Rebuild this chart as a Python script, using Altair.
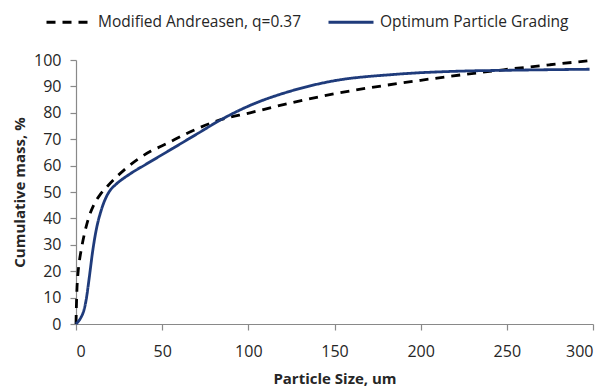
import altair as alt
import pandas as pd

# Modified Andreasen curve (q = 0.37)
andreasen_size = [0, 0.2, 0.6, 1, 2, 3, 5, 7, 10.6, 14, 18.4, 28, 43.5, 50, 68, 82, 101, 125, 150, 200, 248, 275, 300]
andreasen_cpft = [0, 6, 14, 18, 24, 28, 34.5, 39.5, 45.5, 49, 52.3, 58.4, 65.5, 67.5, 73.3, 77.0, 80.0, 83.8, 87.2, 92.3, 96.3, 98.2, 99.9]

# Optimum particle grading curve
optimum_size = [0, 1, 2.9, 4.5, 5.8, 7.7, 9.7, 11.6, 14.5, 17.4, 20, 23.2, 31, 40.6, 53, 71, 82, 101, 125, 147, 186, 224, 250, 298]
optimum_cpft = [0, 0.7, 2.5, 5, 8.8, 17.6, 27.7, 35.2, 42.8, 47.9, 50.8, 52.9, 56.7, 60.5, 65.3, 72.3, 76.6, 82.8, 88.3, 91.8, 94.6, 95.8, 96.1, 96.5]

series_names = ["Modified Andreasen, q=0.37", "Optimum Particle Grading"]
x_ticks = [0, 50, 100, 150, 200, 250, 300]
y_ticks = [0, 10, 20, 30, 40, 50, 60, 70, 80, 90, 100]

rows = []
for i, (s, c) in enumerate(zip(andreasen_size, andreasen_cpft)):
    rows.append({"size": s, "cpft": c, "series": series_names[0], "order": i})
for i, (s, c) in enumerate(zip(optimum_size, optimum_cpft)):
    rows.append({"size": s, "cpft": c, "series": series_names[1], "order": i})
df = pd.DataFrame(rows)

FONT = "Open Sans"
TEXT = "#262626"
AXIS = "#898989"

legend = alt.Legend(title=None, orient="none", direction="horizontal",
                    legendX=-31, legendY=-62, symbolType="stroke",
                    symbolSize=2025, symbolStrokeWidth=3, labelOffset=5,
                    columnPadding=20, labelFont=FONT, labelFontSize=15.5,
                    labelColor=TEXT, labelLimit=400)

chart = alt.Chart(df).mark_line(interpolate="monotone", strokeWidth=2.8).encode(
    x=alt.X("size:Q",
            scale=alt.Scale(domain=[0, 300], nice=False),
            axis=alt.Axis(values=x_ticks, title="Particle Size, um", grid=False,
                          tickSize=6, labelPadding=13, titlePadding=12)),
    y=alt.Y("cpft:Q",
            scale=alt.Scale(domain=[0, 100], nice=False),
            axis=alt.Axis(values=y_ticks, title="Cumulative mass, %", grid=False,
                          tickSize=6, labelPadding=9, titlePadding=6)),
    color=alt.Color("series:N",
                    scale=alt.Scale(domain=series_names, range=["#000000", "#1F3B7B"]),
                    legend=legend),
    strokeDash=alt.StrokeDash("series:N",
                              scale=alt.Scale(domain=series_names, range=[[9, 7], [1, 0]]),
                              legend=legend),
    order="order:Q",
).properties(
    width=517, height=264,
    padding={"left": 68, "top": 52, "right": 7, "bottom": 62},
    autosize=alt.AutoSizeParams(type="none"),
).configure_view(stroke=None).configure_axis(
    domainColor=AXIS, tickColor=AXIS, domainWidth=1.2, tickWidth=1.2,
    labelFont=FONT, labelFontSize=16, labelColor=TEXT,
    titleFont=FONT, titleFontSize=15, titleFontWeight="bold", titleColor=TEXT,
)

chart.save("out.html", embed_options={"renderer": "svg", "actions": False})
